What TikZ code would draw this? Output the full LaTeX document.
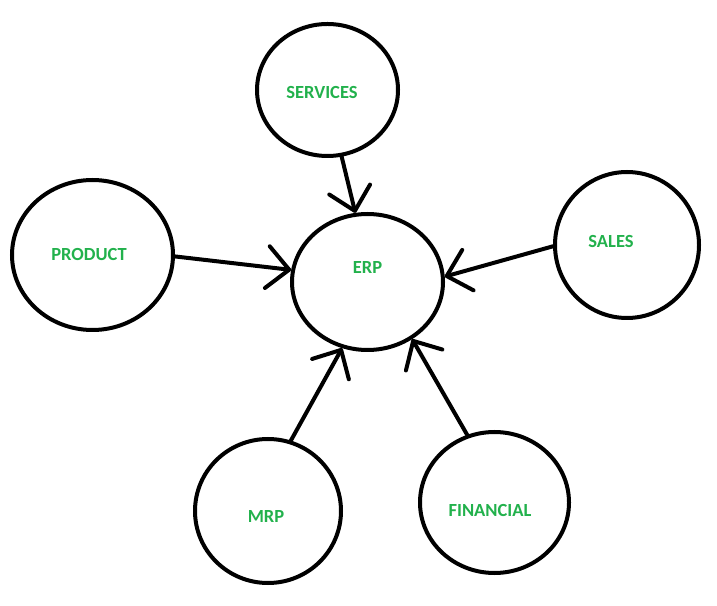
\documentclass[tikz,border=0pt]{standalone}
\usepackage{fontspec}
\setmainfont{Carlito}
\usetikzlibrary{shapes.geometric,arrows.meta}
\definecolor{paintgreen}{RGB}{34,177,76}

\begin{document}
\begin{tikzpicture}[x=1pt,y=1pt,
    bubble/.style={ellipse,draw,line width=4pt,inner sep=0pt},
    lbl/.style={text=paintgreen,font=\fontsize{18.5}{22}\selectfont\bfseries},
    link/.style={line width=4pt,line cap=round,-{Straight Barb[length=22pt,width=42pt,line width=4pt,round]}}]
                      \useasboundingbox (0,0) rectangle (717,605);
                      \node[bubble,minimum width=141pt,minimum height=132pt](services)at(327.5,515){};
                      \node[bubble,minimum width=161pt,minimum height=150pt](product)at(92.5,350){};
                      \node[bubble,minimum width=151pt,minimum height=136pt](erp)at(367.5,323){};
                      \node[bubble,minimum width=144pt,minimum height=146pt](sales)at(627,360){};
                      \node[bubble,minimum width=146pt,minimum height=144pt](mrp)at(268,94){};
                      \node[bubble,minimum width=149pt,minimum height=141pt](financial)at(494.5,102.5){};
                      \node[lbl](services-t)at([shift={(-5.5,-3)}]services){SERVICES};
                      \node[lbl](product-t)at([shift={(-3.5,0)}]product){PRODUCT};
                      \node[lbl](erp-t)at([shift={(0,14)}]erp){ERP};
                      \node[lbl](sales-t)at([shift={(-16,3)}]sales){SALES};
                      \node[lbl](mrp-t)at([shift={(-2,-6)}]mrp){MRP};
                      \node[lbl](financial-t)at([shift={(-4.5,-7.5)}]financial){FINANCIAL};
                      \draw[link](services.282)--(erp.100);
                      \draw[link](product.359)--(erp.171);
                      \draw[link](sales.181)--(erp.4);
                      \draw[link](mrp.72)--(erp.249);
                      \draw[link](financial.112)--(erp.308);
                  \end{tikzpicture}
\end{document}
